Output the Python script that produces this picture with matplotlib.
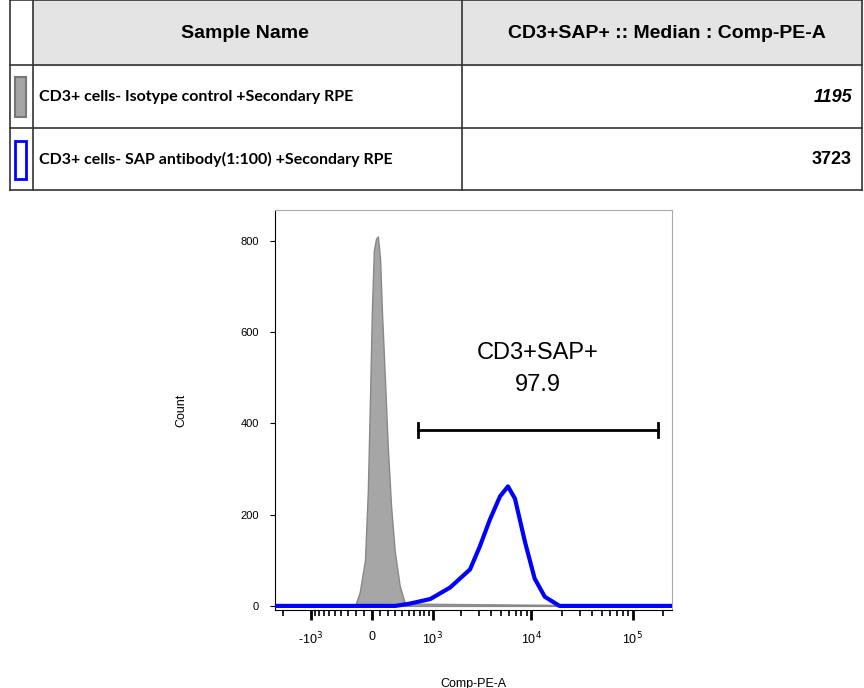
import numpy as np
import matplotlib.pyplot as plt
from matplotlib.patches import Rectangle

# data
iso_x = [-2400, -211, -150, -85, -50, -24, 0, 24, 50, 73, 100, 122, 160, 197, 240, 290, 360, 440, 250000]
iso_y = [0, 0, 30, 100, 250, 450, 650, 780, 805, 810, 760, 650, 500, 350, 220, 120, 45, 5, 0]
sap_x = [-2400, 300, 520, 935, 1530, 2460, 3080, 3900, 4900, 5880, 6900, 8670, 10800, 13600, 19000, 250000]
sap_y = [0, 0, 5, 15, 40, 80, 130, 190, 240, 262, 235, 140, 60, 20, 0, 0]
gate_lo, gate_hi, gate_y = 670, 178000, 386
gate_name, gate_pct = "CD3+SAP+", "97.9"
samples = ["CD3+ cells- Isotype control +Secondary RPE", "CD3+ cells- SAP antibody(1:100) +Secondary RPE"]
medians = ["1195", "3723"]
W = 535.0

fwd = lambda v: np.arcsinh(np.asarray(v) / W)
inv = lambda u: W * np.sinh(np.asarray(u))

fig = plt.figure(figsize=(8.64, 6.88), dpi=100)

# ---- table overlay in pixel coords
tb = fig.add_axes([0, 0, 1, 1])
tb.set_xlim(0, 864); tb.set_ylim(688, 0); tb.axis("off")
tb.add_patch(Rectangle((33, 0), 829, 65, color="#e4e4e4", zorder=0))
for y in [0, 65, 128, 190]:
    tb.plot([10, 862], [y, y], color="#333", lw=1.2)
for x in [10, 33, 462, 862]:
    tb.plot([x, x], [0, 190], color="#333", lw=1.2)
tb.text(245, 34, "Sample Name", ha="center", va="center", fontsize=14, fontweight="bold", family="Liberation Sans")
tb.text(667, 34, "CD3+SAP+ :: Median : Comp-PE-A", ha="center", va="center", fontsize=14, fontweight="bold", family="Liberation Sans")
tb.add_patch(Rectangle((15, 77), 11, 40, facecolor="#a6a6a6", edgecolor="#777", lw=1.5))
tb.add_patch(Rectangle((15, 141), 11, 38, facecolor="white", edgecolor="#0000ff", lw=2))
for i, (s, m) in enumerate(zip(samples, medians)):
    yc = 97 + i * 62
    tb.text(39, yc, s, va="center", fontsize=11.5, fontweight="bold", family="Lato")
    tb.text(852, yc, m, va="center", ha="right", fontsize=13, fontweight="bold",
            style="italic" if i == 0 else "normal", family="Liberation Sans")

# ---- histogram
ax = fig.add_axes([275 / 864, 78 / 688, 397 / 864, 400 / 688])
ax.set_xscale("function", functions=(fwd, inv))
ax.fill_between(iso_x, iso_y, color="#a6a6a6", edgecolor="#888", lw=1, zorder=2)
ax.plot(sap_x, sap_y, color="#0000ff", lw=3, zorder=3)
ax.set_xlim(-2390, 245000)
ax.set_ylim(-9, 868)

ax.plot([gate_lo, gate_hi], [gate_y, gate_y], color="black", lw=2)
for gx in [gate_lo, gate_hi]:
    ax.plot([gx, gx], [gate_y - 15, gate_y + 15], color="black", lw=2)
gx_mid = inv((fwd(gate_lo) + fwd(gate_hi)) / 2)
ax.text(gx_mid, 555, gate_name, ha="center", va="center", fontsize=17, family="Liberation Sans")
ax.text(gx_mid, 485, gate_pct, ha="center", va="center", fontsize=17, family="Liberation Sans")

major = [-1000, 0, 1000, 10000, 100000]
ax.set_xticks(major)
ax.set_xticklabels([r"-10$^3$", "0", r"10$^3$", r"10$^4$", r"10$^5$"], family="Liberation Sans", fontsize=9)
minor = [-k * 100 for k in range(1, 10)] + [-2000] + [k * 100 for k in range(1, 10)] \
    + [k * 1000 for k in range(2, 10)] + [k * 10000 for k in range(2, 10)] + [200000]
ax.set_xticks(minor, minor=True)
ax.set_yticks([0, 200, 400, 600, 800])
ax.tick_params(axis="y", labelsize=8, pad=8)
ax.tick_params(axis="x", which="major", length=7, width=2, pad=8)
ax.tick_params(axis="x", which="minor", length=4, width=1.2)
for lab in ax.get_yticklabels():
    lab.set_family("Liberation Sans")
for sp in ["top", "right"]:
    ax.spines[sp].set_color("#aaa")
ax.set_xlabel("Comp-PE-A", fontsize=9, family="Liberation Sans", labelpad=22)
ax.set_ylabel("Count", fontsize=9, family="Liberation Sans", labelpad=38)

fig.savefig("out.png", dpi=100)
